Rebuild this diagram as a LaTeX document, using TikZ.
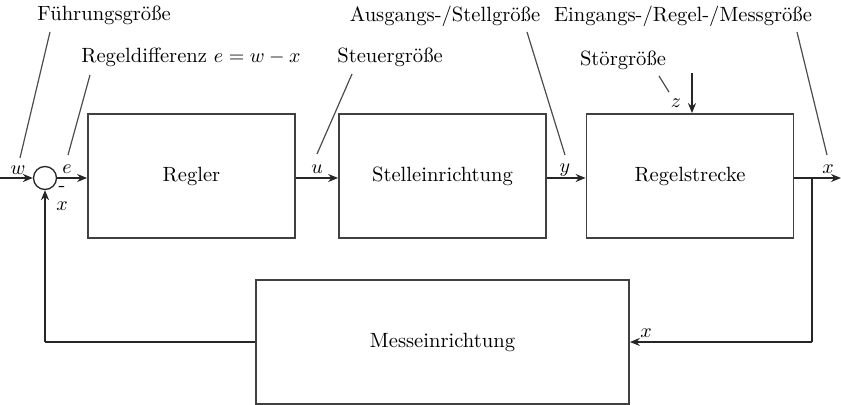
\documentclass[tikz,border=0pt]{standalone}
\usetikzlibrary{arrows.meta}
\begin{document}
\begin{tikzpicture}[x=0.5pt,y=-0.5pt,
  font=\fontsize{10.3}{12}\selectfont,
  blk/.style={draw=black!75, line width=0.9pt, minimum width=103.5pt, minimum height=62pt, inner sep=0pt},
  sig/.style={draw=black!85, line width=0.65pt, -{Stealth[length=5pt,width=4pt]}},
  wire/.style={draw=black!85, line width=0.65pt},
  lead/.style={draw=black!70, line width=0.6pt},
  lbl/.style={inner sep=0pt}]
\useasboundingbox (0,0) rectangle (841,405);

% blocks of the forward path
\node[blk] (regler) at (191.5,176) {Regler};
\node[blk] (stell) at (442.5,176) {Stelleinrichtung};
\node[blk] (strecke) at (690,176) {Regelstrecke};
\node[blk, minimum width=186.5pt] (mess) at (442.5,342) {Messeinrichtung};

% summing point
\node[draw=black!85, line width=0.65pt, circle, minimum size=11.5pt, inner sep=0pt] (sum) at (45,178) {};

% signal flow
\coordinate (win) at (0,178);
\coordinate (xout) at (841,178);
\coordinate (split) at (812,178);
\coordinate (fbr) at (812,342);
\coordinate (fbl) at (45,342);
\coordinate (ztop) at (692,73);

\draw[sig] (win) -- (sum.west);
\draw[sig] (sum.east) -- (sum.east -| regler.west);
\draw[sig] (regler.east |- 0,178) -- (stell.west |- 0,178);
\draw[sig] (stell.east |- 0,178) -- (strecke.west |- 0,178);
\draw[sig] (strecke.east |- 0,178) -- (xout);
\draw[wire] (split) -- (fbr);
\draw[sig] (fbr) -- (fbr -| mess.east);
\draw[wire] (mess.west |- fbl) -- (fbl);
\draw[sig] (fbl) -- (sum.south);
\draw[sig] (ztop) -- (ztop |- strecke.north);

% signal symbols
\node[lbl] at (18,170) {$w$};
\node[lbl] at (67,169) {$e$};
\node[lbl] at (62,189) {-};
\node[lbl] at (62,206) {$x$};
\node[lbl] at (317,169) {$u$};
\node[lbl] at (565,170) {$y$};
\node[lbl] at (828,169) {$x$};
\node[lbl] at (676,103) {$z$};
\node[lbl] at (646,333) {$x$};

% names of the quantities
\node[lbl] (fg) at (104,15) {Führungsgröße};
\node[lbl] (rd) at (191,57) {Regeldifferenz $e=w-x$};
\node[lbl] (sg) at (390,57) {Steuergröße};
\node[lbl] (ag) at (445,16) {Ausgangs-/Stellgröße};
\node[lbl] (eg) at (683,16) {Eingangs-/Regel-/Messgröße};
\node[lbl] (st) at (623,60) {Störgröße};

% leader lines
\draw[lead] (50,32) -- (20,158);
\draw[lead] (90,75) -- (68,155);
\draw[lead] (352,74) -- (317,154);
\draw[lead] (527,32) -- (565,155);
\draw[lead] (797,32) -- (827,155);
\draw[lead] (659,76) -- (669,92);
\end{tikzpicture}
\end{document}
